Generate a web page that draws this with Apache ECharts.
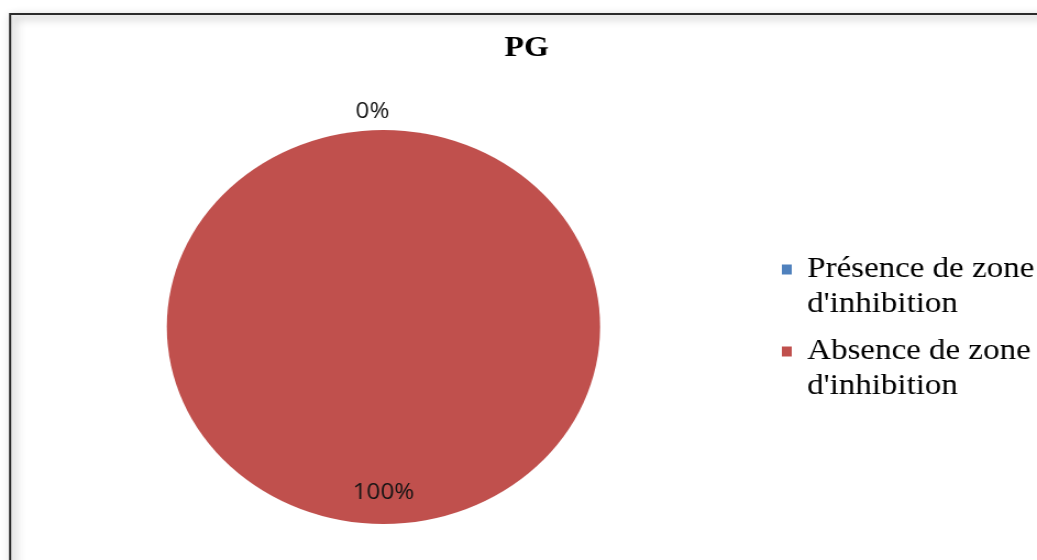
<!DOCTYPE html>
<html><head><meta charset="utf-8">
<script src="https://cdn.jsdelivr.net/npm/echarts@6/dist/echarts.min.js"></script>
<style>
html,body{margin:0;padding:0;background:#fff;overflow:hidden}
#wrap{width:1037px;height:560px;overflow:hidden;position:relative;background:#fff}
#chart{width:943px;height:560px;transform:scaleX(1.09968);transform-origin:0 0}
</style></head><body><div id="wrap"><div id="chart"></div></div>
<script>
const chartTitle = 'PG';
const categories = ['Présence de zone d\'inhibition', 'Absence de zone d\'inhibition'];
const values = [0, 100];
const colors = ['#4F81BD', '#C0504D'];

const legendFont = {fontFamily: 'Liberation Serif', fontSize: 30, color: '#000', lineHeight: 35};

const chart = echarts.init(document.getElementById('chart'), null, {renderer: 'canvas'});
chart.setOption({
  animation: false,
  backgroundColor: '#ffffff',
  graphic: [{
    type: 'rect', silent: true, z: -1,
    shape: {x: 9.2, y: 14, width: 1000, height: 600},
    style: {fill: 'none', stroke: '#2b2b2b', lineWidth: 2,
      shadowColor: 'rgba(0,0,0,0.45)', shadowBlur: 8, shadowOffsetX: 3, shadowOffsetY: 3}
  }],
  title: {
    text: chartTitle, left: 479, top: 34, textAlign: 'center', padding: 0,
    textStyle: {fontFamily: 'Liberation Serif', fontWeight: 'bold', fontSize: 29, color: '#000'}
  },
  legend: {
    orient: 'vertical', left: 711, top: 217, padding: 0,
    itemWidth: 9, itemHeight: 10, itemGap: -23, icon: 'rect',
    selectedMode: false,
    data: categories,
    formatter: name => {
      const parts = name.split(' d\'');
      return '{t| }\n{t|' + parts[0] + '}\n{t|d\'' + parts[1] + '}';
    },
    textStyle: Object.assign({}, legendFont, {
      rich: {t: Object.assign({}, legendFont, {padding: [0, 0, 0, 9]})}
    })
  },
  series: [{
    type: 'pie', silent: true,
    center: [348.7, 327], radius: 197,
    startAngle: 90, clockwise: true, avoidLabelOverlap: false,
    data: categories.map((n, i) => ({
      name: n, value: values[i], itemStyle: {color: colors[i]},
      label: {position: i === 0 ? 'outside' : 'inside'}
    })),
    label: {formatter: '{d}%', fontFamily: 'Open Sans', fontSize: 22, color: '#141414'},
    labelLine: {show: false, length: 18, length2: 0},
    labelLayout: p => p.dataIndex === 0 ? {align: 'center', dx: -5} : {dy: 64},
    emphasis: {disabled: true}
  }]
});
</script></body></html>
